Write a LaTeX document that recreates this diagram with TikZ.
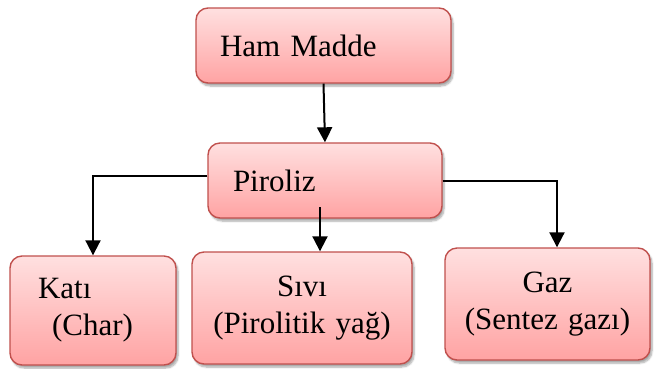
\documentclass[tikz,border=0pt]{standalone}
\usepackage{fontspec}
\setmainfont{Liberation Serif}
\usetikzlibrary{arrows.meta,shadows.blur}
\definecolor{boxedge}{HTML}{C0504D}
\definecolor{boxtop}{HTML}{FFE0E0}
\definecolor{boxbottom}{HTML}{FFA3A3}
\tikzset{
  stagebox/.style={draw=boxedge, line width=1.4pt, rounded corners=12pt,
    top color=boxtop, bottom color=boxbottom,
    blur shadow={shadow xshift=2pt, shadow yshift=-3pt, shadow blur steps=6, shadow opacity=35},
    font=\fontsize{31}{37}\selectfont, inner ysep=0pt},
  flow/.style={line width=2pt, -{Triangle[width=15pt,length=15pt]}}
}
\begin{document}
\begin{tikzpicture}[x=1pt,y=-1pt]
  \useasboundingbox (0,0) rectangle (658,368);
  % top level: raw material and process
  \node[stagebox, minimum width=255, minimum height=75, text width=207, inner xsep=24, align=left]
    (ham) at (323.5,45.5) {Ham Madde};
  \node[stagebox, minimum width=234, minimum height=75, text width=184, inner xsep=25, align=left]
    (piroliz) at (325,180.5) {Piroliz};
  % products
  \node[stagebox, minimum width=166, minimum height=109, text width=110, inner xsep=28, align=left]
    (kati) at (93,310.5) {Katı\\\hspace*{14pt}(Char)};
  \node[stagebox, minimum width=220, minimum height=112, text width=200, inner xsep=10, align=center]
    (sivi) at (302,308) {Sıvı\\(Pirolitik yağ)};
  \node[stagebox, minimum width=205, minimum height=112, text width=195, inner xsep=5, align=center]
    (gaz) at (547.5,304) {Gaz\\(Sentez gazı)};
  % connectors
  \coordinate (pmid) at (320,207);
  \draw[flow] (ham.south) -- (piroliz.north);
  \draw[flow] ([yshift=4.5pt]piroliz.west) -| (kati.north);
  \draw[flow] (pmid) -- (pmid |- sivi.north);
  \draw[flow] (piroliz.east) -| ([xshift=9.5pt]gaz.north);
\end{tikzpicture}
\end{document}
